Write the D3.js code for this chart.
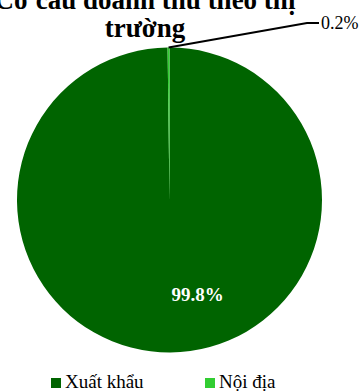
<!DOCTYPE html>
<html>
<head>
<meta charset="utf-8">
<script src="https://cdn.jsdelivr.net/npm/d3@7"></script>
<style>
  body { margin: 0; background: #fff; }
  svg { display: block; }
</style>
</head>
<body>
<div id="chart"></div>
<script>
const categories = ["Xuất khẩu", "Nội địa"];
const values = [99.8, 0.2];
const colors = ["#006400", "#32CD32"];
const titleLines = ["Cơ cấu doanh thu theo thị", "trường"];

const W = 362, H = 391;
const cx = 169.5, cy = 200, r = 152.5;
const serif = "Liberation Serif, Times New Roman, serif";

let svg = d3.select("#chart").append("svg")
  .attr("width", W).attr("height", H);

// title (cut at top like the original)
let title = svg.append("text")
  .attr("text-anchor", "middle")
  .attr("font-family", serif)
  .attr("font-weight", "bold")
  .attr("font-size", "27px")
  .attr("fill", "#000");
title.selectAll("tspan").data(titleLines).enter().append("tspan")
  .attr("x", 145)
  .attr("y", (d, i) => 9 + i * 28)
  .text(d => d);

let data = categories.map((c, i) => ({name: c, value: values[i], color: colors[i]}));

let pie = d3.pie().sort(null).value(d => d.value)
  .startAngle(0).endAngle(2 * Math.PI);
let arcs = pie(data);
let arc = d3.arc().innerRadius(0).outerRadius(r);

let g = svg.append("g").attr("transform", "translate(" + cx + "," + cy + ")");

g.selectAll("path").data(arcs).enter().append("path")
  .attr("d", arc)
  .attr("fill", d => d.data.color);

// big slice label
let big = arcs[0];
g.append("text")
  .attr("x", 28)
  .attr("y", 101)
  .attr("text-anchor", "middle")
  .attr("font-family", serif)
  .attr("font-weight", "bold")
  .attr("font-size", "19px")
  .attr("fill", "#fff")
  .text(d3.format(".1f")(big.data.value) + "%");

// small slice with leader line
let small = arcs[1];
let mid = (small.startAngle + small.endAngle) / 2;
let p0 = [Math.sin(mid) * r, -Math.cos(mid) * r];
let p1 = [307 - cx, 23 - cy];
let p2 = [319 - cx, 23 - cy];
g.append("polyline")
  .attr("points", [p0, p1, p2].map(p => p.join(",")).join(" "))
  .attr("fill", "none")
  .attr("stroke", "#000")
  .attr("stroke-width", 2);
g.append("text")
  .attr("x", p2[0] + 2)
  .attr("y", p2[1] + 6)
  .attr("font-family", serif)
  .attr("font-size", "18px")
  .attr("fill", "#000")
  .text(d3.format(".1f")(small.data.value) + "%");

// legend
let legendX = [51, 205];
let leg = svg.append("g");
let items = leg.selectAll("g").data(data).enter().append("g")
  .attr("transform", (d, i) => "translate(" + legendX[i] + ",378)");
items.append("rect")
  .attr("width", 10).attr("height", 10)
  .attr("fill", d => d.color);
items.append("text")
  .attr("x", 14)
  .attr("y", 10)
  .attr("font-family", serif)
  .attr("font-size", "19px")
  .attr("fill", "#000")
  .text(d => d.name);
</script>
</body>
</html>
